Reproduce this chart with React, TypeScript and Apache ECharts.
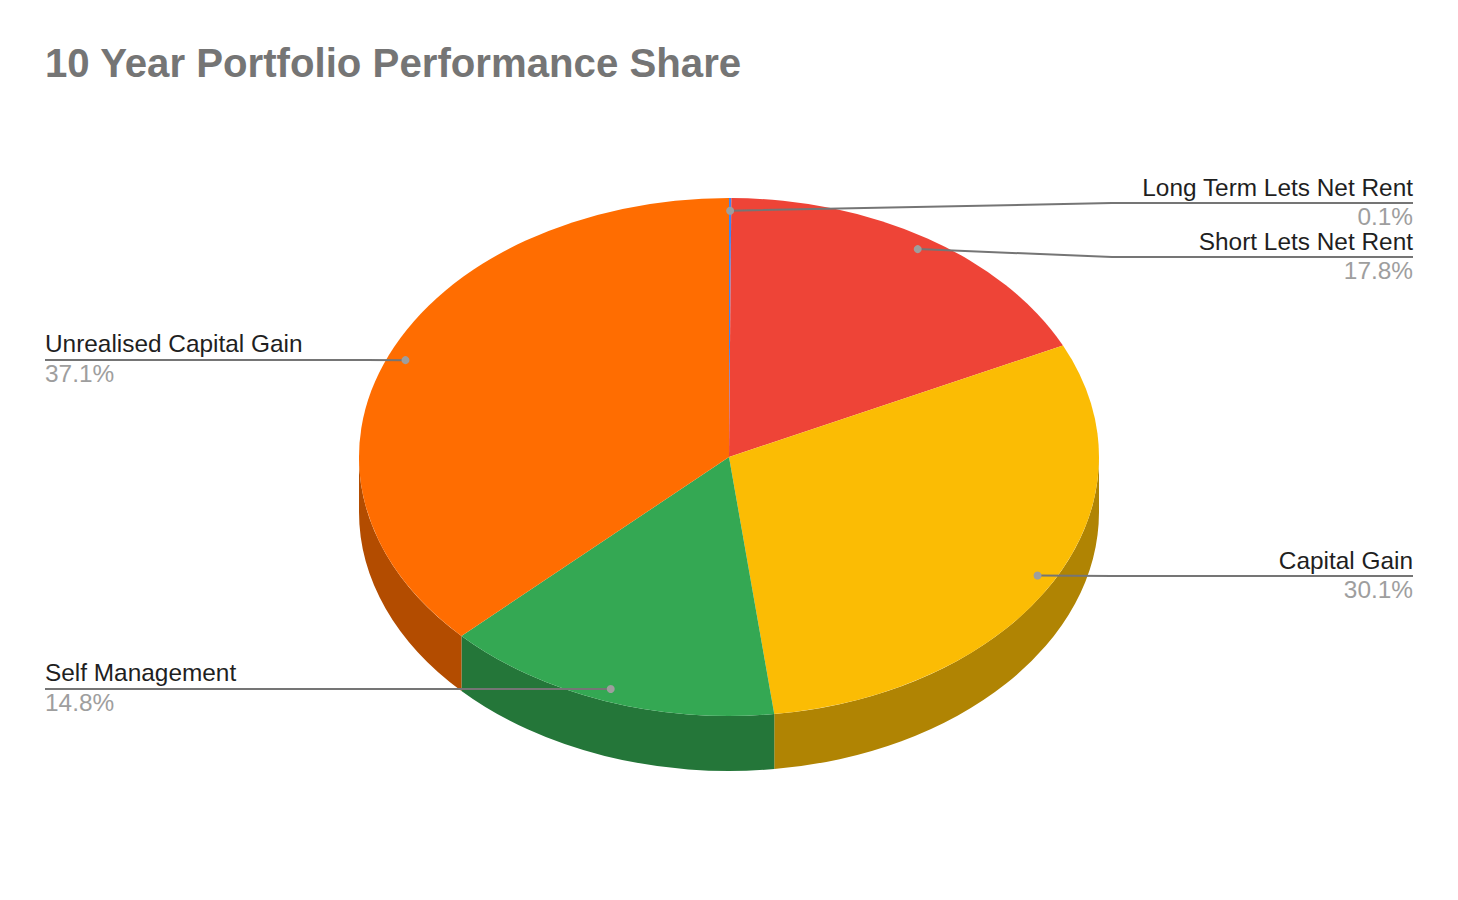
import React, { useEffect, useRef } from "react";
import * as echarts from "echarts";

const categories = [
  "Long Term Lets Net Rent",
  "Short Lets Net Rent",
  "Capital Gain",
  "Self Management",
  "Unrealised Capital Gain",
];
const shares = [0.1, 17.8, 30.1, 14.8, 37.1];
const shareLabels = ["0.1%", "17.8%", "30.1%", "14.8%", "37.1%"];
const sliceColors = ["#4285F4", "#EE4437", "#FBBC04", "#34A853", "#FF6D01"];
const sideColors = ["#2E5DAA", "#A62F26", "#B08403", "#247639", "#B34C00"];

const CX = 729;
const CY = 457;
const RX = 370;
const RY = 259;
const DEPTH = 55;
const DOT_AT = 0.951;
const LEFT = 45;
const RIGHT = 1413;
// label rail per slice: side of the page, rail y, elbow x
const rails = [
  { side: "right", y: 203, elbow: 1112 },
  { side: "right", y: 257, elbow: 1112 },
  { side: "right", y: 576, elbow: 1112 },
  { side: "left", y: 689, elbow: 300 },
  { side: "left", y: 360, elbow: 367 },
];

const total = shares.reduce((a, b) => a + b, 0);
const startFraction = (i: number) =>
  shares.slice(0, i).reduce((a, b) => a + b, 0) / total;
const toAngle = (f: number) => f * Math.PI * 2;
const px = (a: number, k = 1) => CX + Math.sin(a) * RX * k;
const py = (a: number, k = 1) => CY - Math.cos(a) * RY * k;

function topPath(a0: number, a1: number) {
  const large = a1 - a0 > Math.PI ? 1 : 0;
  return `M${CX} ${CY}L${px(a0)} ${py(a0)}A${RX} ${RY} 0 ${large} 1 ${px(a1)} ${py(a1)}Z`;
}

function sidePath(a0: number, a1: number) {
  const s = Math.max(a0, Math.PI / 2);
  const e = Math.min(a1, (Math.PI * 3) / 2);
  if (e <= s) return "";
  const large = e - s > Math.PI ? 1 : 0;
  return (
    `M${px(s)} ${py(s)}A${RX} ${RY} 0 ${large} 1 ${px(e)} ${py(e)}` +
    `L${px(e)} ${py(e) + DEPTH}A${RX} ${RY} 0 ${large} 0 ${px(s)} ${py(s) + DEPTH}Z`
  );
}

const seriesData = categories.map((name, i) => ({ name, value: shares[i] }));

export default function App() {
  const ref = useRef<HTMLDivElement>(null);

  useEffect(() => {
    document.body.style.margin = "0";
    const chart = echarts.init(ref.current!, undefined, { renderer: "svg" });
    chart.setOption({
      animation: false,
      backgroundColor: "#ffffff",
      title: {
        text: "10 Year Portfolio Performance Share",
        left: 45,
        top: 43,
        padding: 0,
        textStyle: {
          fontFamily: "Liberation Sans",
          fontSize: 40.2,
          fontWeight: "bold",
          color: "#757575",
        },
      },
      tooltip: { show: false },
      series: [
        {
          type: "custom",
          name: "sides",
          coordinateSystem: "none",
          silent: true,
          z: 1,
          data: seriesData,
          renderItem: (params: any) => {
            const i = params.dataIndex;
            const d = sidePath(toAngle(startFraction(i)), toAngle(startFraction(i + 1)));
            if (!d) return { type: "group", children: [] };
            return { type: "path", shape: { pathData: d }, style: { fill: sideColors[i] } };
          },
        },
        {
          type: "custom",
          name: "tops",
          coordinateSystem: "none",
          silent: true,
          z: 2,
          data: seriesData,
          renderItem: (params: any) => {
            const i = params.dataIndex;
            return {
              type: "path",
              shape: {
                pathData: topPath(toAngle(startFraction(i)), toAngle(startFraction(i + 1))),
              },
              style: { fill: sliceColors[i] },
            };
          },
        },
        {
          type: "custom",
          name: "labels",
          coordinateSystem: "none",
          silent: true,
          z: 3,
          data: seriesData,
          renderItem: (params: any) => {
            const i = params.dataIndex;
            const mid = toAngle((startFraction(i) + startFraction(i + 1)) / 2);
            const dx = px(mid, DOT_AT);
            const dy = py(mid, DOT_AT);
            const rail = rails[i];
            const isRight = rail.side === "right";
            const endX = isRight ? RIGHT : LEFT;
            return {
              type: "group",
              children: [
                {
                  type: "polyline",
                  shape: {
                    points: [
                      [dx, dy],
                      [rail.elbow, rail.y],
                      [endX, rail.y],
                    ],
                  },
                  style: { fill: "none", stroke: "#757575", lineWidth: 2 },
                },
                {
                  type: "circle",
                  shape: { cx: dx, cy: dy, r: 4 },
                  style: { fill: "#9E9E9E" },
                },
                {
                  type: "text",
                  style: {
                    text: categories[i],
                    x: endX,
                    y: rail.y + (isRight ? -15.6 : -17),
                    textAlign: isRight ? "right" : "left",
                    textVerticalAlign: "middle",
                    fontFamily: "Liberation Sans",
                    fontSize: 24.4,
                    fill: "#1F1F1F",
                  },
                },
                {
                  type: "text",
                  style: {
                    text: shareLabels[i],
                    x: endX,
                    y: rail.y + (isRight ? 13.6 : 13),
                    textAlign: isRight ? "right" : "left",
                    textVerticalAlign: "middle",
                    fontFamily: "Liberation Sans",
                    fontSize: 24.4,
                    fill: "#9E9E9E",
                  },
                },
              ],
            };
          },
        },
      ],
    });
    return () => chart.dispose();
  }, []);

  return <div ref={ref} style={{ width: 1458, height: 900 }} />;
}
